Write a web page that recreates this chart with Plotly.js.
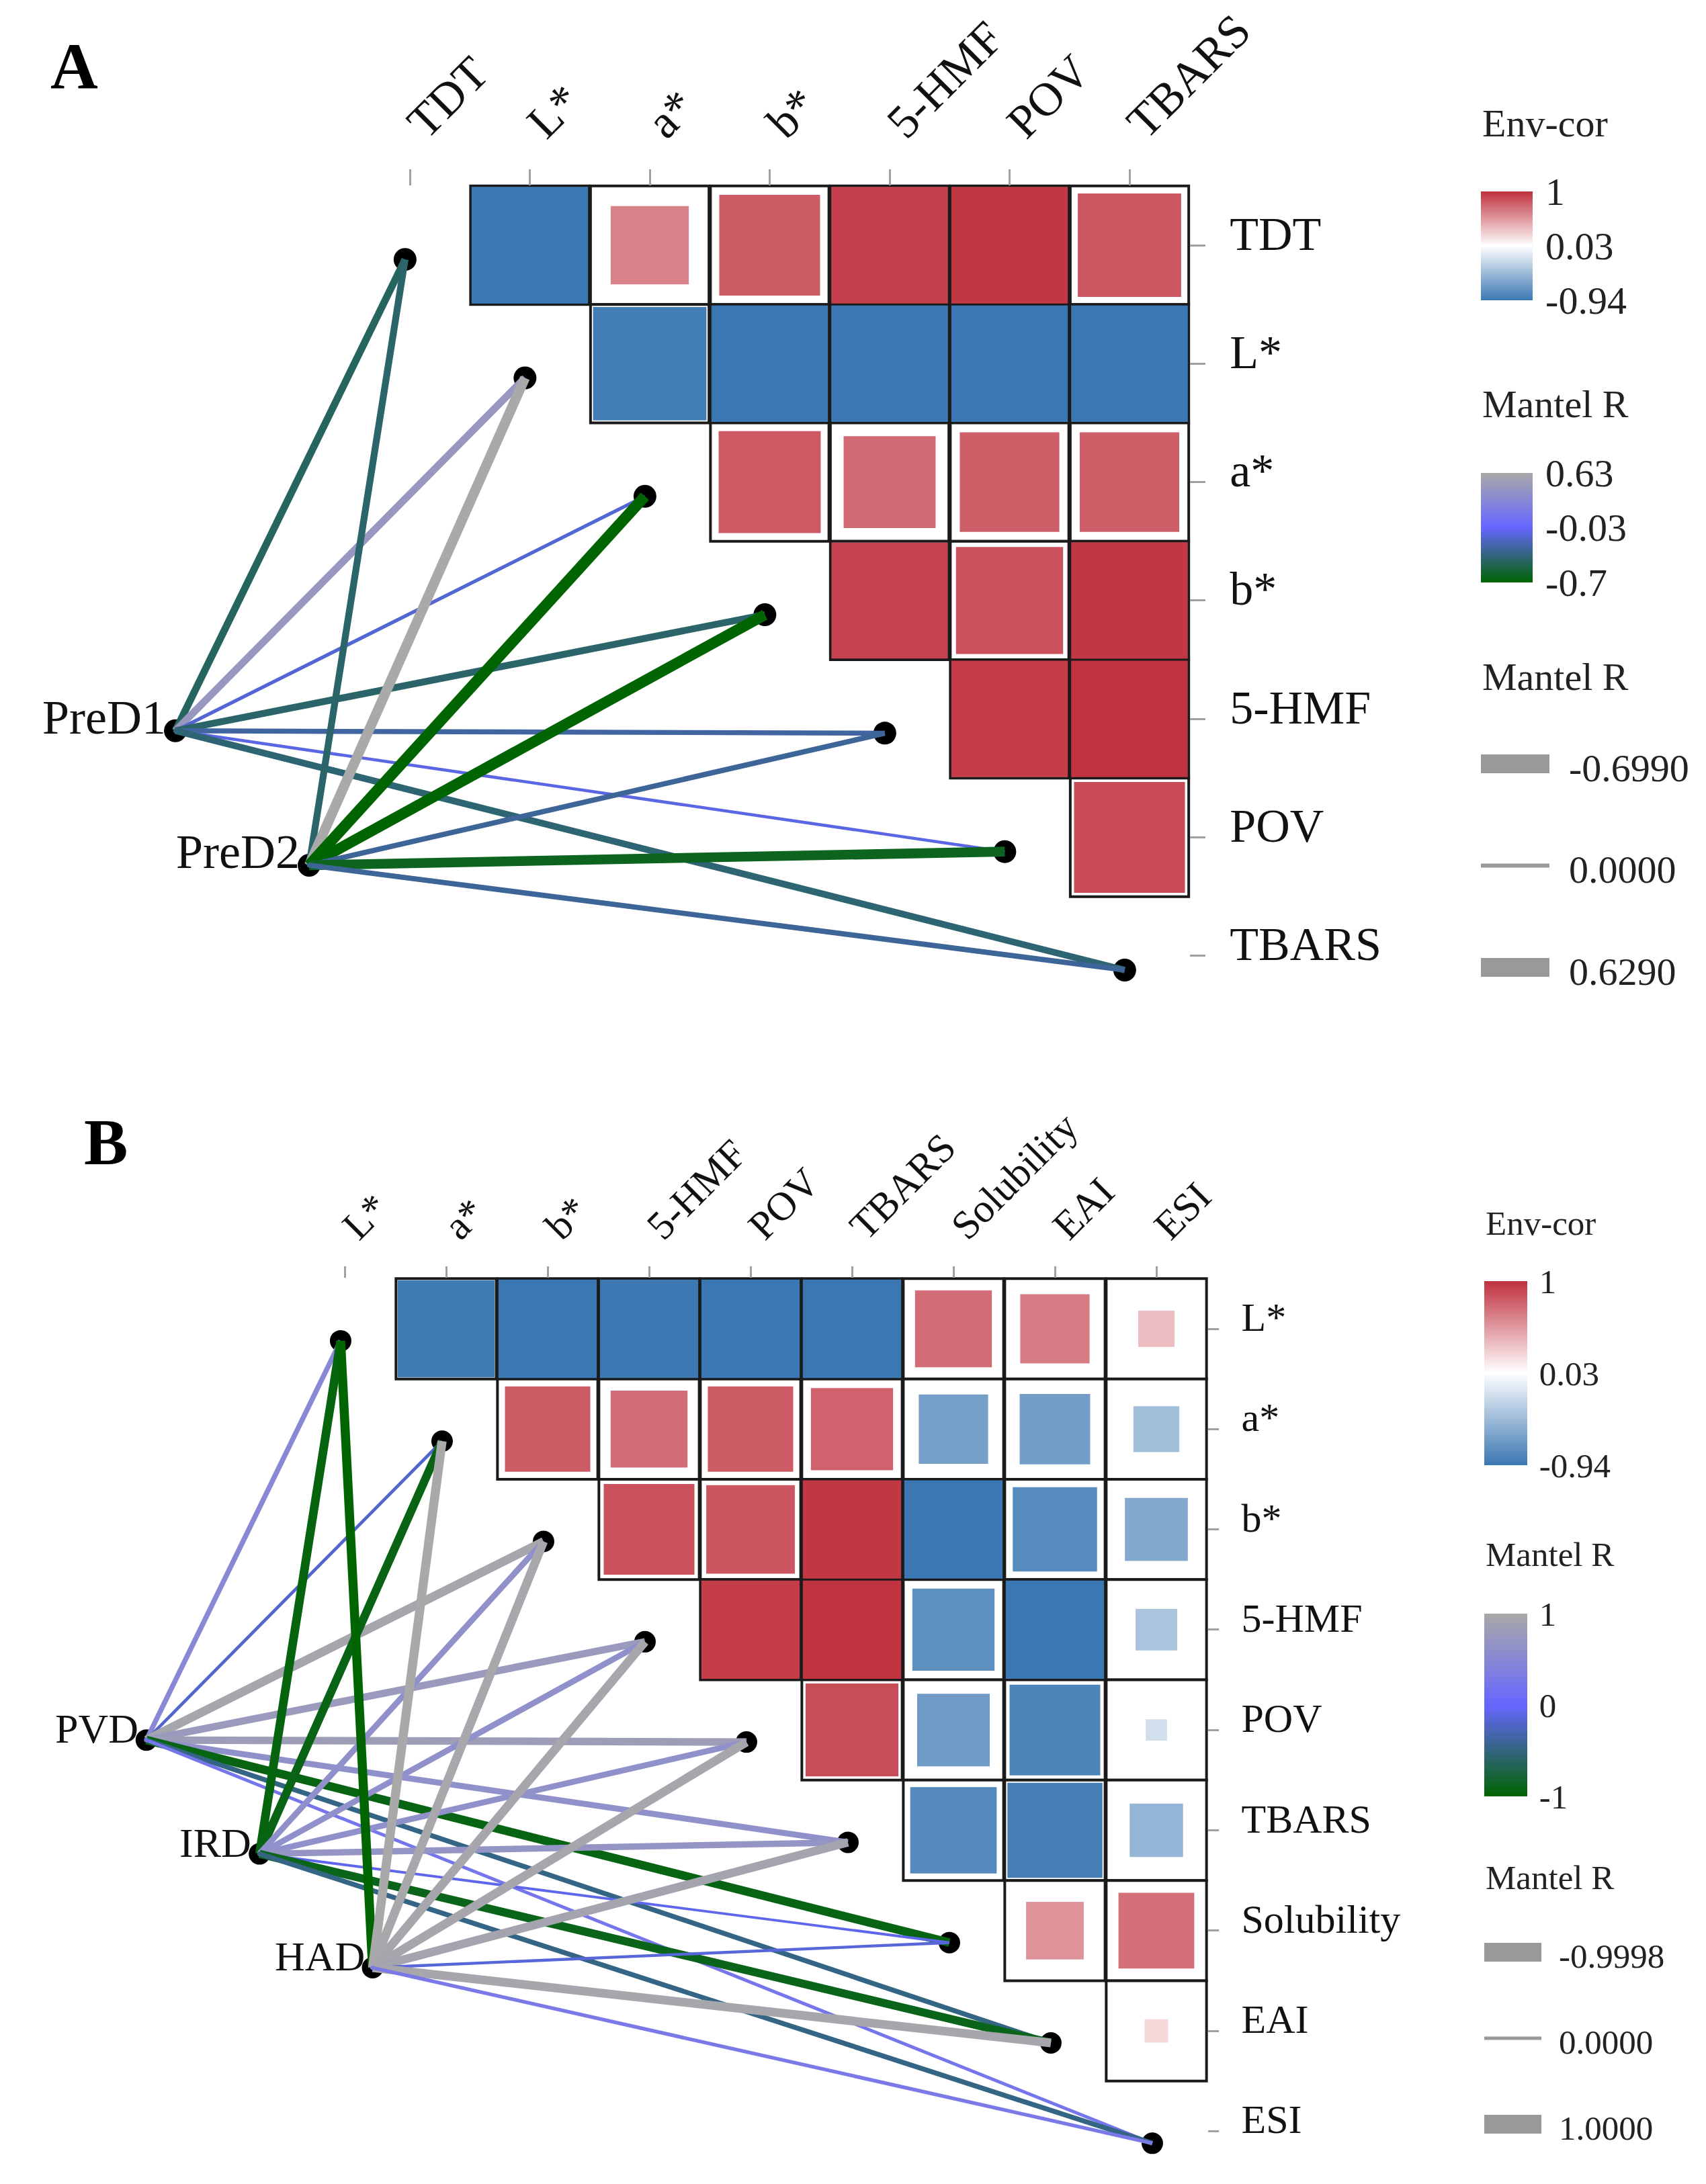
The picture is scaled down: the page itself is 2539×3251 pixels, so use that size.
<!DOCTYPE html>
<html>
<head>
<meta charset="utf-8">
<script src="https://cdn.plot.ly/plotly-3.0.1.min.js"></script>
<style>html,body{margin:0;padding:0;background:#fff}#chart{width:2539px;height:3251px}</style>
</head>
<body>
<div id="chart"></div>
<script>
// ================= DATA : panel A =================
const varsA = ['TDT', 'L*', 'a*', 'b*', '5-HMF', 'POV', 'TBARS'];
const envA = ['PreD1', 'PreD2'];
// Env-cor (upper triangle), row i holds columns i+1 .. n-1
const corA_TDT  = [-0.94, 0.62, 0.80, 0.93, 0.97, 0.82];
const corA_L    = [-0.90, -0.94, -0.93, -0.94, -0.94];
const corA_a    = [0.81, 0.73, 0.79, 0.79];
const corA_b    = [0.92, 0.85, 0.97];
const corA_HMF  = [0.95, 0.99];
const corA_POV  = [0.88];
// Mantel R : environment factor -> each variable (TDT .. TBARS)
const mantelA_PreD1 = [-0.45, 0.45, -0.15, -0.42, -0.28, -0.10, -0.40];
const mantelA_PreD2 = [-0.42, 0.629, -0.699, -0.69, -0.30, -0.62, -0.30];
const envTicksA = [-0.94, 0.03, 1];
const envTickTextA = ['-0.94', '0.03', '1'];
const mantelTicksA = [-0.699, -0.03, 0.629];
const mantelTickTextA = ['-0.7', '-0.03', '0.63'];
const sizeBreaksA = [-0.6990, 0.0000, 0.6290];

// ================= DATA : panel B =================
const varsB = ['L*', 'a*', 'b*', '5-HMF', 'POV', 'TBARS', 'Solubility', 'EAI', 'ESI'];
const envB = ['PVD', 'IRD', 'HAD'];
const corB_L    = [-0.91, -0.94, -0.93, -0.94, -0.94, 0.72, 0.65, 0.34];
const corB_a    = [0.80, 0.72, 0.80, 0.77, -0.65, -0.66, -0.43];
const corB_b    = [0.85, 0.83, 0.97, -0.94, -0.79, -0.59];
const corB_HMF  = [0.95, 0.99, -0.77, -0.94, -0.39];
const corB_POV  = [0.87, -0.68, -0.85, -0.20];
const corB_TB   = [-0.81, -0.89, -0.50];
const corB_Sol  = [0.54, 0.71];
const corB_EAI  = [0.22];
// Mantel R : environment factor -> each variable (L* .. ESI)
const mantelB_PVD = [0.50, -0.20, 0.95, 0.78, 0.82, 0.62, -0.93, -0.48, 0.22];
const mantelB_IRD = [-0.95, -0.92, 0.62, 0.62, 0.62, 0.68, -0.08, -0.90, -0.48];
const mantelB_HAD = [-0.9998, 1.0, 0.97, 0.96, 0.96, 0.93, -0.15, 0.96, 0.28];
const envTicksB = [-0.94, 0.03, 1];
const envTickTextB = ['-0.94', '0.03', '1'];
const mantelTicksB = [-0.9998, 0, 1.0];
const mantelTickTextB = ['-1', '0', '1'];
const sizeBreaksB = [-0.9998, 0.0000, 1.0000];

// ================= STYLE / LAYOUT =================
const W = 2539, H = 3251;
const SERIF = 'Liberation Serif, Times New Roman, serif';
const envScale = [[0, '#3B77B2'], [0.5, '#FFFFFF'], [1, '#C0313E']];
function mantelScale(cmin, cmax, mid) {
  const m = (mid - cmin) / (cmax - cmin);
  return [[0, '#006400'], [m, '#6666FF'], [1, '#A9A9A9']];
}

const geomA = {x0: 610, dx: 178.5, y0: 365, dy: 176.3, xr: [-3.2, 6.5], yr: [6.7, -0.5]};
const geomB = {x0: 513, dx: 151, y0: 1978, dy: 149.3, xr: [-3.3, 8.5], yr: [8.5, -0.5]};
const domX = g => [(g.x0 + g.dx * g.xr[0]) / W, (g.x0 + g.dx * g.xr[1]) / W];
const domY = g => [1 - (g.y0 + g.dy * g.yr[0]) / H, 1 - (g.y0 + g.dy * g.yr[1]) / H];

function hexToRgb(h) { return [parseInt(h.slice(1, 3), 16), parseInt(h.slice(3, 5), 16), parseInt(h.slice(5, 7), 16)]; }
function colorAt(v, scale, cmin, cmax) {
  let t = (v - cmin) / (cmax - cmin);
  t = Math.max(0, Math.min(1, t));
  for (let i = 0; i < scale.length - 1; i++) {
    const [t0, c0] = scale[i], [t1, c1] = scale[i + 1];
    if (t <= t1) {
      const f = (t - t0) / (t1 - t0);
      const a = hexToRgb(c0), b = hexToRgb(c1);
      const c = a.map((x, k) => Math.round(x + (b[k] - x) * f));
      return `rgb(${c[0]},${c[1]},${c[2]})`;
    }
  }
  return scale[scale.length - 1][1];
}

function buildPanel(p) {
  const traces = [];
  const g = p.g;
  const cell = Math.min(g.dx, g.dy);
  const bx = [], by = [], cr = [], cs = [];
  p.rows.forEach((row, i) => row.forEach((r, k) => {
    const j = i + 1 + k;
    bx.push(j); by.push(i); cr.push(r);
    cs.push(Math.min(cell - 3, cell * Math.abs(r) / 0.94));
  }));
  // cell frames
  traces.push({type: 'scatter', mode: 'markers', x: bx, y: by, xaxis: p.xa, yaxis: p.ya, hoverinfo: 'skip', cliponaxis: false,
    marker: {symbol: 'square', size: cell, opacity: 1, color: '#ffffff', line: {color: '#1a1a1a', width: 4}}});
  // coloured squares
  traces.push({type: 'scatter', mode: 'markers', x: bx, y: by, xaxis: p.xa, yaxis: p.ya, hoverinfo: 'skip', cliponaxis: false,
    marker: {symbol: 'square', size: cs, opacity: 1, color: cr, colorscale: envScale, cmin: -0.94, cmax: 1, line: {width: 0},
      showscale: true,
      colorbar: {x: p.cb1.x / W, xanchor: 'left', xpad: 0, y: 1 - p.cb1.top / H, yanchor: 'top', ypad: 0,
        len: p.cb1.len, lenmode: 'pixels', thickness: p.cb1.th, thicknessmode: 'pixels', outlinewidth: 0,
        tickmode: 'array', tickvals: p.envTicks, ticktext: p.envTickText, ticks: 'outside', ticklen: 8,
        tickcolor: 'rgba(0,0,0,0)', tickfont: {family: SERIF, size: p.legFont, color: '#222'}}}});
  // node positions
  const envX = p.env.map((_, k) => -1.955 + 1.115 * k);
  const envY = p.env.map((_, k) => 4.1 + 1.135 * k);
  const tX = p.vars.map((_, j) => j - 0.04);
  const tY = p.vars.map((_, j) => j + 0.12);
  traces.push({type: 'scatter', mode: 'markers', x: envX.concat(tX), y: envY.concat(tY), xaxis: p.xa, yaxis: p.ya,
    hoverinfo: 'skip', cliponaxis: false, marker: {symbol: 'circle', size: p.nodeSize, opacity: 1, color: '#000'}});
  // edges
  const mScale = mantelScale(p.mMin, p.mMax, p.mMid);
  const allM = [], mx = [], my = [];
  p.mantel.forEach((vals, k) => vals.forEach((r, j) => {
    allM.push(r); mx.push(envX[k]); my.push(envY[k]);
    const w = p.wMin + p.wSpan * Math.pow(Math.abs(r) / p.wRef, 1.3);
    traces.push({type: 'scatter', mode: 'lines', x: [envX[k], tX[j]], y: [envY[k], tY[j]], xaxis: p.xa, yaxis: p.ya,
      hoverinfo: 'skip', line: {color: colorAt(r, mScale, p.mMin, p.mMax), width: w}});
  }));
  // Mantel colour bar carrier
  traces.push({type: 'scatter', mode: 'markers', x: mx, y: my, xaxis: p.xa, yaxis: p.ya, hoverinfo: 'skip',
    marker: {size: 0, color: allM, colorscale: mScale, cmin: p.mMin, cmax: p.mMax, showscale: true,
      colorbar: {x: p.cb2.x / W, xanchor: 'left', xpad: 0, y: 1 - p.cb2.top / H, yanchor: 'top', ypad: 0,
        len: p.cb2.len, lenmode: 'pixels', thickness: p.cb2.th, thicknessmode: 'pixels', outlinewidth: 0,
        tickmode: 'array', tickvals: p.mTicks, ticktext: p.mTickText, ticks: 'outside', ticklen: 8,
        tickcolor: 'rgba(0,0,0,0)', tickfont: {family: SERIF, size: p.legFont, color: '#222'}}}});
  // size legend keys
  p.sizeBreaks.forEach((v, k) => {
    traces.push({type: 'scatter', mode: 'lines', x: [0, 1], y: [k, k], xaxis: p.lxa, yaxis: p.lya, hoverinfo: 'skip',
      line: {color: '#999999', width: p.keyW[k]}});
  });
  const ann = [];
  p.env.forEach((name, k) => ann.push({xref: p.xa, yref: p.ya, x: envX[k], y: envY[k], xanchor: 'right', yanchor: 'middle',
    xshift: p.lblShift[0], yshift: p.lblShift[1], text: name, showarrow: false, font: {family: SERIF, size: p.envFont, color: '#111'}}));
  p.sizeBreaks.forEach((v, k) => ann.push({xref: p.lxa, yref: p.lya, x: 1, y: k, xanchor: 'left', yanchor: 'middle',
    xshift: p.keyLblShift, yshift: -6, text: v.toFixed(4), showarrow: false, font: {family: SERIF, size: p.legFont, color: '#222'}}));
  p.titles.forEach(t => ann.push({xref: 'paper', yref: 'paper', x: t.x / W, y: 1 - t.y / H, xanchor: 'left', yanchor: 'middle',
    text: t.text, showarrow: false, font: {family: SERIF, size: p.legFont, color: '#222'}}));
  return {traces, ann};
}

const panelA = buildPanel({
  vars: varsA, env: envA, rows: [corA_TDT, corA_L, corA_a, corA_b, corA_HMF, corA_POV],
  mantel: [mantelA_PreD1, mantelA_PreD2], g: geomA, xa: 'x', ya: 'y', lxa: 'x3', lya: 'y3',
  envTicks: envTicksA, envTickText: envTickTextA, mTicks: mantelTicksA, mTickText: mantelTickTextA,
  mMin: -0.699, mMax: 0.629, mMid: -0.03, sizeBreaks: sizeBreaksA, keyW: [28, 6, 28],
  wMin: 3.5, wSpan: 13, wRef: 0.699, nodeSize: 34, legFont: 58, envFont: 72, lblShift: [-12, 20], keyLblShift: 27,
  cb1: {x: 2204, top: 285, len: 162, th: 77}, cb2: {x: 2204, top: 704, len: 163, th: 77},
  titles: [{text: 'Env-cor', x: 2204, y: 183}, {text: 'Mantel R', x: 2204, y: 601}, {text: 'Mantel R', x: 2204, y: 1008}]
});
const panelB = buildPanel({
  vars: varsB, env: envB, rows: [corB_L, corB_a, corB_b, corB_HMF, corB_POV, corB_TB, corB_Sol, corB_EAI],
  mantel: [mantelB_PVD, mantelB_IRD, mantelB_HAD], g: geomB, xa: 'x2', ya: 'y2', lxa: 'x4', lya: 'y4',
  envTicks: envTicksB, envTickText: envTickTextB, mTicks: mantelTicksB, mTickText: mantelTickTextB,
  mMin: -0.9998, mMax: 1.0, mMid: 0, sizeBreaks: sizeBreaksB, keyW: [28, 5, 28],
  wMin: 3.5, wSpan: 10, wRef: 1.0, nodeSize: 32, legFont: 51, envFont: 62, lblShift: [-10, 17], keyLblShift: 24,
  cb1: {x: 2209, top: 1907, len: 274, th: 64}, cb2: {x: 2209, top: 2402, len: 272, th: 64},
  titles: [{text: 'Env-cor', x: 2209, y: 1821}, {text: 'Mantel R', x: 2209, y: 2314}, {text: 'Mantel R', x: 2209, y: 2795}]
});

function axisX(g, labels, fs, tl, anchor) {
  return {domain: domX(g), range: g.xr, anchor: anchor, side: 'top', tickmode: 'array',
    tickvals: labels.map((_, i) => i), ticktext: labels, tickangle: -45, ticks: 'outside', ticklen: tl, tickwidth: 3,
    tickcolor: '#a0a0a0', tickfont: {family: SERIF, size: fs, color: '#111'}, showgrid: false, zeroline: false,
    showline: false, fixedrange: true, ticklabelstandoff: 4};
}
function axisY(g, labels, fs, tl, anchor) {
  return {domain: domY(g), range: g.yr, anchor: anchor, side: 'right', tickmode: 'array',
    tickvals: labels.map((_, i) => i), ticktext: labels, ticks: 'outside', ticklen: tl, tickwidth: 3,
    tickcolor: '#a0a0a0', tickfont: {family: SERIF, size: fs, color: '#111'}, showgrid: false, zeroline: false,
    showline: false, fixedrange: true, ticklabelstandoff: 22, ticklabelshift: 18};
}
function legendAxes(x0, x1, k0, step) {
  const top = k0 - step / 2, bottom = k0 + 2 * step + step / 2;
  return [{domain: [x0 / W, x1 / W], range: [0, 1], visible: false, fixedrange: true},
          {domain: [1 - bottom / H, 1 - top / H], range: [2.5, -0.5], visible: false, fixedrange: true}];
}
const [lxA, lyA] = legendAxes(2204, 2306, 1137, 151.5);
const [lxB, lyB] = legendAxes(2209, 2294, 2906, 128);
lxA.anchor = 'y3'; lyA.anchor = 'x3'; lxB.anchor = 'y4'; lyB.anchor = 'x4';

const layout = {
  width: W, height: H, margin: {l: 0, r: 0, t: 0, b: 0}, paper_bgcolor: '#ffffff', plot_bgcolor: 'rgba(0,0,0,0)',
  showlegend: false,
  xaxis: axisX(geomA, varsA, 70, 24, 'y'), yaxis: axisY(geomA, varsA, 70, 23, 'x'),
  xaxis2: axisX(geomB, varsB, 60, 17, 'y2'), yaxis2: axisY(geomB, varsB, 60, 16, 'x2'),
  xaxis3: lxA, yaxis3: lyA, xaxis4: lxB, yaxis4: lyB,
  annotations: [
    {xref: 'paper', yref: 'paper', x: 73 / W, y: 1 - 98 / H, xanchor: 'left', yanchor: 'middle', text: '<b>A</b>',
      showarrow: false, font: {family: SERIF, size: 98, color: '#000'}},
    {xref: 'paper', yref: 'paper', x: 123 / W, y: 1 - 1700 / H, xanchor: 'left', yanchor: 'middle', text: '<b>B</b>',
      showarrow: false, font: {family: SERIF, size: 98, color: '#000'}}
  ].concat(panelA.ann, panelB.ann)
};

Plotly.newPlot('chart', panelA.traces.concat(panelB.traces), layout, {staticPlot: true, displayModeBar: false});
</script>
</body>
</html>
